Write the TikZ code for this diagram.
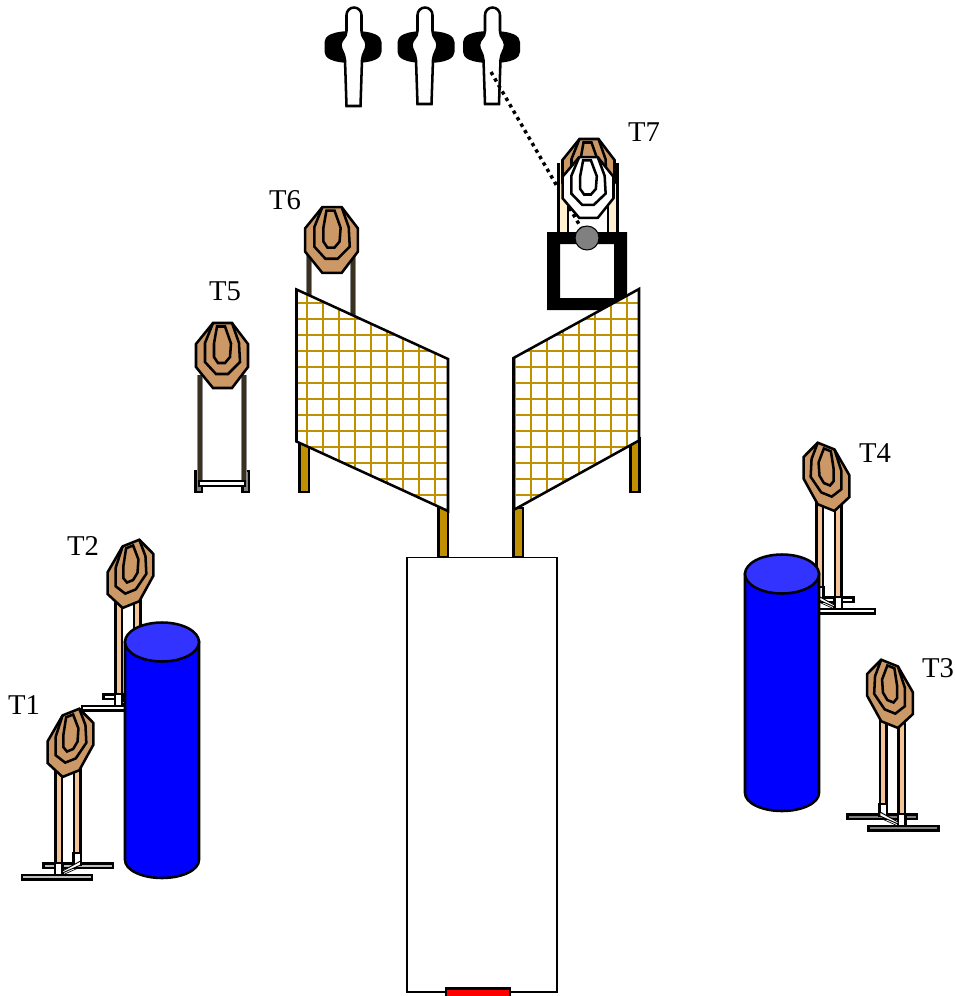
\documentclass[tikz,border=0pt]{standalone}
\usepackage{fontspec}
\setmainfont{Liberation Serif}
\definecolor{tgttan}{HTML}{CC9966}
\definecolor{legtan}{HTML}{F2C496}
\definecolor{legcream}{HTML}{FFF0CF}
\definecolor{meshgold}{HTML}{C09000}
\definecolor{drumblue}{HTML}{0000FF}
\definecolor{drumtop}{HTML}{3333FF}
\definecolor{legdark}{HTML}{3A3020}
\tikzset{
  ln/.style={draw=black,line width=1.9pt,line join=miter},
  thin ln/.style={draw=black,line width=1.6pt},
  lbl/.style={font=\fontsize{21.5}{24}\selectfont,inner sep=0pt,text=black},
  mesh/.style={draw=meshgold,line width=1.9pt},
  post/.style={fill=meshgold,draw=black,line width=1.7pt},
  darkleg/.style={draw=legdark,line width=2.5pt},
  halo/.style={draw=black!45,line width=4pt},
}
% octagonal plate, drawn in the current x and y vectors
\newcommand{\plate}[1]{%
  \draw[ln,fill=#1] (-9,-32.5)--(10,-32.5)--(26,-11.5)--(26,11.5)--(10,32.5)--(-9,32.5)--(-26,11.5)--(-26,-11.5)--cycle;
  \draw[ln] (-9,-32.5)--(-17,-12.5)--(-17,6.5)--(-6,18.5)--(6,18.5)--(18,6.5)--(17,-12.5)--(10,-32.5);
  \draw[ln] (-5,-29)--(3,-29)--(9,-12)--(8,1.5)--(3,7.5)--(-4,7.5)--(-8,1.5)--(-8,-12)--cycle;
}
% steel target on an angled stand: centre x, centre y, mirror sign, bar fill
\newcommand{\standtarget}[4]{%
  \begin{scope}[shift={(#1,#2)},xscale=#3]
    \draw[thin ln,fill=#4] (-27,120.5) rectangle (42.5,125);
    \draw[thin ln,fill=#4] (-48.5,132) rectangle (21.5,136.5);
    \draw[thin ln,fill=legtan] (-15,25) rectangle (-8.5,122);
    \draw[thin ln,fill=legtan] (3.5,20) rectangle (10,112);
    \draw[thin ln,fill=white] (-15.5,120) rectangle (-8,132);
    \draw[thin ln,fill=white] (3,110) rectangle (10.5,122);
    \draw[draw=black,line width=.7pt,fill=white] (-8,130)--(10,122)--(10,118)--(-8,128)--cycle;
    \draw[draw=black,line width=.5pt] (-8,132)--(10,124);
    \begin{scope}[x={(.66pt,.265pt)},y={(0pt,-.71pt)}]
      \plate{tgttan}
    \end{scope}
  \end{scope}
}
\newcommand{\silhouette}[3]{%
  \fill[black] (#1,31) .. controls (#1+21,31) and (#1+28.5,36) .. (#1+28.5,42)
    -- (#1+28.5,52) .. controls (#1+28.5,58) and (#1+21,63) .. (#1,63)
    .. controls (#1-21,63) and (#1-28.5,58) .. (#1-28.5,52)
    -- (#1-28.5,42) .. controls (#1-28.5,36) and (#1-21,31) .. (#1,31) -- cycle;
  \draw[ln,fill=white] (#2-7,#3)--(#2-8.5,60)
    .. controls (#2-9,53) and (#2-13,50) .. (#2-13,45)
    .. controls (#2-13,39) and (#2-7,38) .. (#2-7,31)
    -- (#2-7,15) arc[start angle=180,end angle=360,x radius=7.5,y radius=7.5]
    -- (#2+8,31)
    .. controls (#2+8,38) and (#2+13,39) .. (#2+13,45)
    .. controls (#2+13,50) and (#2+9,53) .. (#2+8.5,60)
    -- (#2+7,#3)--cycle;
}
\newcommand{\drum}[3]{%
  \draw[ln,fill=drumblue] (#1,#2) -- (#1,#3) arc[start angle=180,end angle=0,x radius=37,y radius=18] -- (#1+74,#2) -- cycle;
  \draw[ln,fill=drumtop] (#1+37,#2) ellipse (37 and 19.5);
}
\begin{document}
\begin{tikzpicture}[x=.75pt,y=-.75pt]
\useasboundingbox (0,0) rectangle (956,996);
\fill[white] (0,0) rectangle (956,996);

% far silhouettes
\silhouette{353}{353.5}{106}
\silhouette{426}{424.5}{104}
\silhouette{491.5}{492}{104}

% dotted sight line
\coordinate (sightA) at (491,72);
\coordinate (sightB) at (587,238);
\draw[black,line width=2.6pt,dash pattern=on 2.6pt off 3pt] (sightA) -- (sightB);

% T7 no-shoot behind and frame
\fill[legcream] (558.5,163) rectangle (567.5,235);
\fill[legcream] (608.5,163) rectangle (617.5,235);
\draw[ln] (558.5,163) -- (558.5,235);
\draw[ln] (617.5,163) -- (617.5,235);
\draw[black,line width=.9pt] (568,163) -- (568,235);
\draw[black,line width=.9pt] (608,163) -- (608,235);
\begin{scope}[shift={(588.5,171.5)},x={(.75pt,0pt)},y={(0pt,-.75pt)}]
  \plate{tgttan}
\end{scope}
\begin{scope}[shift={(588,187.5)},x={(.735pt,0pt)},y={(0pt,-.70pt)}]
  \plate{white}
\end{scope}
\fill[black,even odd rule] (547,232) rectangle (627,310) (560,244) rectangle (614,298);
\draw[black,line width=.8pt,fill=gray] (587,238) circle (12);

% T6 behind the mesh
\draw[halo] (309,255) -- (309,325);
\draw[darkleg] (309,255) -- (309,325);
\draw[halo] (353,255) -- (353,325);
\draw[darkleg] (353,255) -- (353,325);
\begin{scope}[shift={(331.5,240)},x={(.76pt,0pt)},y={(0pt,-.76pt)}]
  \plate{tgttan}
\end{scope}

% T5
\draw[thin ln,fill=gray] (195.5,471) rectangle (202,492);
\draw[thin ln,fill=gray] (242.5,471) rectangle (249,492);
\draw[halo] (200,375) -- (200,480);
\draw[darkleg] (200,375) -- (200,480);
\draw[halo] (244,375) -- (244,480);
\draw[darkleg] (244,375) -- (244,480);
\draw[thin ln,fill=white] (199,481) rectangle (245,486);
\begin{scope}[shift={(222,355.5)},x={(.75pt,0pt)},y={(0pt,-.75pt)}]
  \plate{tgttan}
\end{scope}

% posts and mesh panels
\draw[post] (299.5,441) rectangle (309,492);
\draw[post] (438.5,508) rectangle (448,557);
\draw[post] (513.5,508) rectangle (523,557);
\draw[post] (630.5,438) rectangle (639.5,492);

\fill[white] (296.5,289.5)--(448,359)--(448,511)--(296.5,441.5)--cycle;
\begin{scope}
  \clip (296.5,289.5)--(448,359)--(448,511)--(296.5,441.5)--cycle;
  \foreach \gx in {307,323,...,435} \draw[mesh] (\gx,285) -- (\gx,515);
  \foreach \gy in {303,319,...,495} \draw[mesh] (292,\gy) -- (452,\gy);
\end{scope}
\draw[ln] (296.5,289.5)--(448,359)--(448,511)--(296.5,441.5)--cycle;

\fill[white] (639,289)--(513.5,358)--(513.5,510)--(639,440.5)--cycle;
\begin{scope}
  \clip (639,289)--(513.5,358)--(513.5,510)--(639,440.5)--cycle;
  \foreach \gx in {515,531,...,627} \draw[mesh] (\gx,285) -- (\gx,515);
  \foreach \gy in {303,319,...,495} \draw[mesh] (509,\gy) -- (643,\gy);
\end{scope}
\draw[ln] (639,289)--(513.5,358)--(513.5,510)--(639,440.5)--cycle;

% vehicle box and red marker
\draw[ln,fill=white,line width=1.4pt] (407,557.5) rectangle (557,992);
\draw[ln,fill=red] (446,988.5) rectangle (510,998);

% stands and drums
\standtarget{130.5}{574}{1}{white}
\drum{125}{642}{860}
\standtarget{70.5}{743}{1}{black!25}
\standtarget{826.5}{477}{-1}{white}
\drum{745}{574}{793}
\standtarget{890}{694}{-1}{black!50}

% labels
\node[lbl] (t1) at (24,705) {T1};
\node[lbl] (t2) at (83,546) {T2};
\node[lbl] (t3) at (938,668) {T3};
\node[lbl] (t4) at (875,453) {T4};
\node[lbl] (t5) at (225,291) {T5};
\node[lbl] (t6) at (285,200) {T6};
\node[lbl] (t7) at (644,132) {T7};
\end{tikzpicture}
\end{document}
